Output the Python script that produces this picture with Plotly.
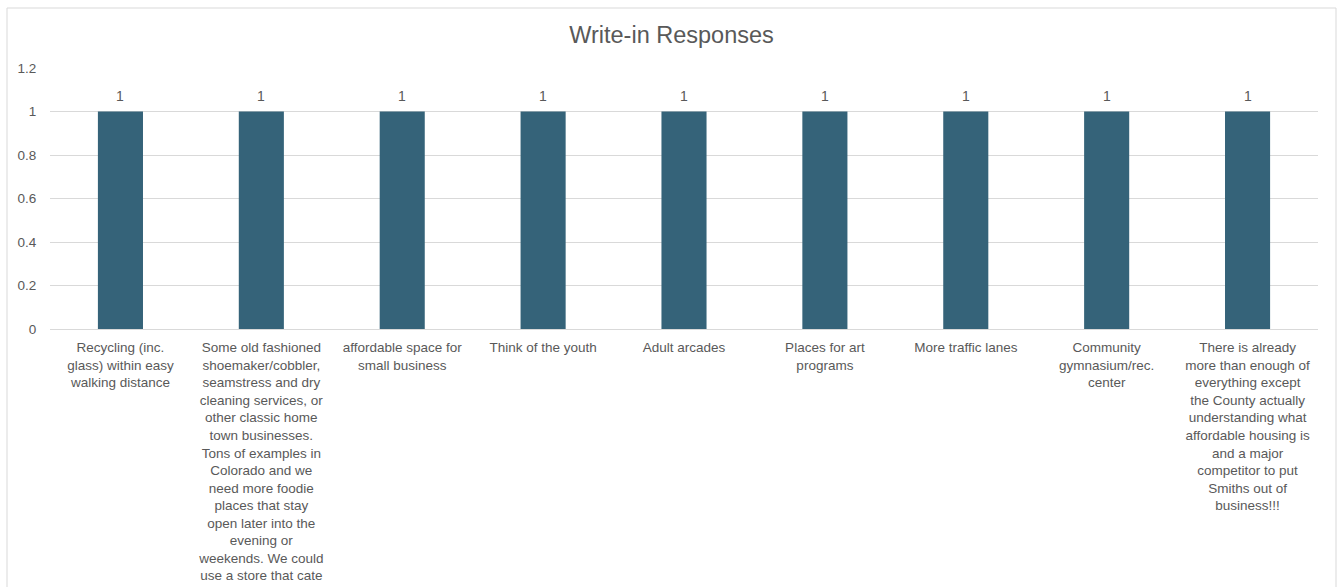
import plotly.graph_objects as go

label_lines = [
    ["Recycling (inc.", "glass) within easy", "walking distance"],
    ["Some old fashioned", "shoemaker/cobbler,", "seamstress and dry", "cleaning services, or",
     "other classic home", "town businesses.", "Tons of examples in", "Colorado and we",
     "need more foodie", "places that stay", "open later into the", "evening or",
     "weekends. We could", "use a store that cate"],
    ["affordable space for", "small business"],
    ["Think of the youth"],
    ["Adult arcades"],
    ["Places for art", "programs"],
    ["More traffic lanes"],
    ["Community", "gymnasium/rec.", "center"],
    ["There is already", "more than enough of", "everything except", "the County actually",
     "understanding what", "affordable housing is", "and a major", "competitor to put",
     "Smiths out of", "business!!!"],
]
categories = [" ".join(l) for l in label_lines]
tick_text = ["<br>".join(l) for l in label_lines]
values = [1, 1, 1, 1, 1, 1, 1, 1, 1]
y_ticks = [0, 0.2, 0.4, 0.6, 0.8, 1, 1.2]
y_tick_text = ["0", "0.2", "0.4", "0.6", "0.8", "1", "1.2"]

FONT = "Liberation Sans, Arial, sans-serif"
GRAY = "#595959"

fig = go.Figure(go.Bar(
    x=categories, y=values,
    marker=dict(color="#356379", line=dict(width=0)),
    cliponaxis=False,
))
for c, v in zip(categories, values):
    fig.add_annotation(x=c, y=v, text=str(v), showarrow=False,
                       yanchor="middle", yshift=16,
                       font=dict(family=FONT, size=14, color=GRAY))

W, H = 1343, 587
L, R, T, B = 50, 25, 68, 258
fig.update_layout(
    width=W, height=H,
    margin=dict(l=L, r=R, t=T, b=B, autoexpand=False),
    paper_bgcolor="white", plot_bgcolor="white",
    bargap=0.68,
    showlegend=False,
    title=dict(text="Write-in Responses", x=0.5, xanchor="center",
               y=1 - 35 / H, yanchor="middle",
               font=dict(family=FONT, size=23.5, color=GRAY)),
    font=dict(family=FONT, color=GRAY),
)
fig.update_xaxes(
    tickmode="array", tickvals=categories, ticktext=tick_text,
    tickangle=0, tickfont=dict(family=FONT, size=13.5, color=GRAY),
    showline=True, linecolor="#d9d9d9", linewidth=1,
    ticks="outside", ticklen=6, tickcolor="rgba(0,0,0,0)",
    showgrid=False, automargin=False,
)
fig.update_yaxes(
    range=[0, 1.2], tickmode="array", tickvals=y_ticks, ticktext=y_tick_text,
    tickfont=dict(family=FONT, size=13.5, color=GRAY),
    showgrid=True, gridcolor="#d9d9d9", gridwidth=1,
    zeroline=False, showline=False,
    ticks="outside", ticklen=10, tickcolor="rgba(0,0,0,0)",
    automargin=False,
)

pw, ph = W - L - R, H - T - B
fig.add_shape(type="rect", xref="paper", yref="paper",
              x0=(7 - L) / pw, x1=(1336 - L) / pw,
              y0=(H - B - 620) / ph, y1=(H - B - 8) / ph,
              line=dict(color="#d9d9d9", width=1), fillcolor="rgba(0,0,0,0)",
              layer="below")

fig.write_html("out.html")
